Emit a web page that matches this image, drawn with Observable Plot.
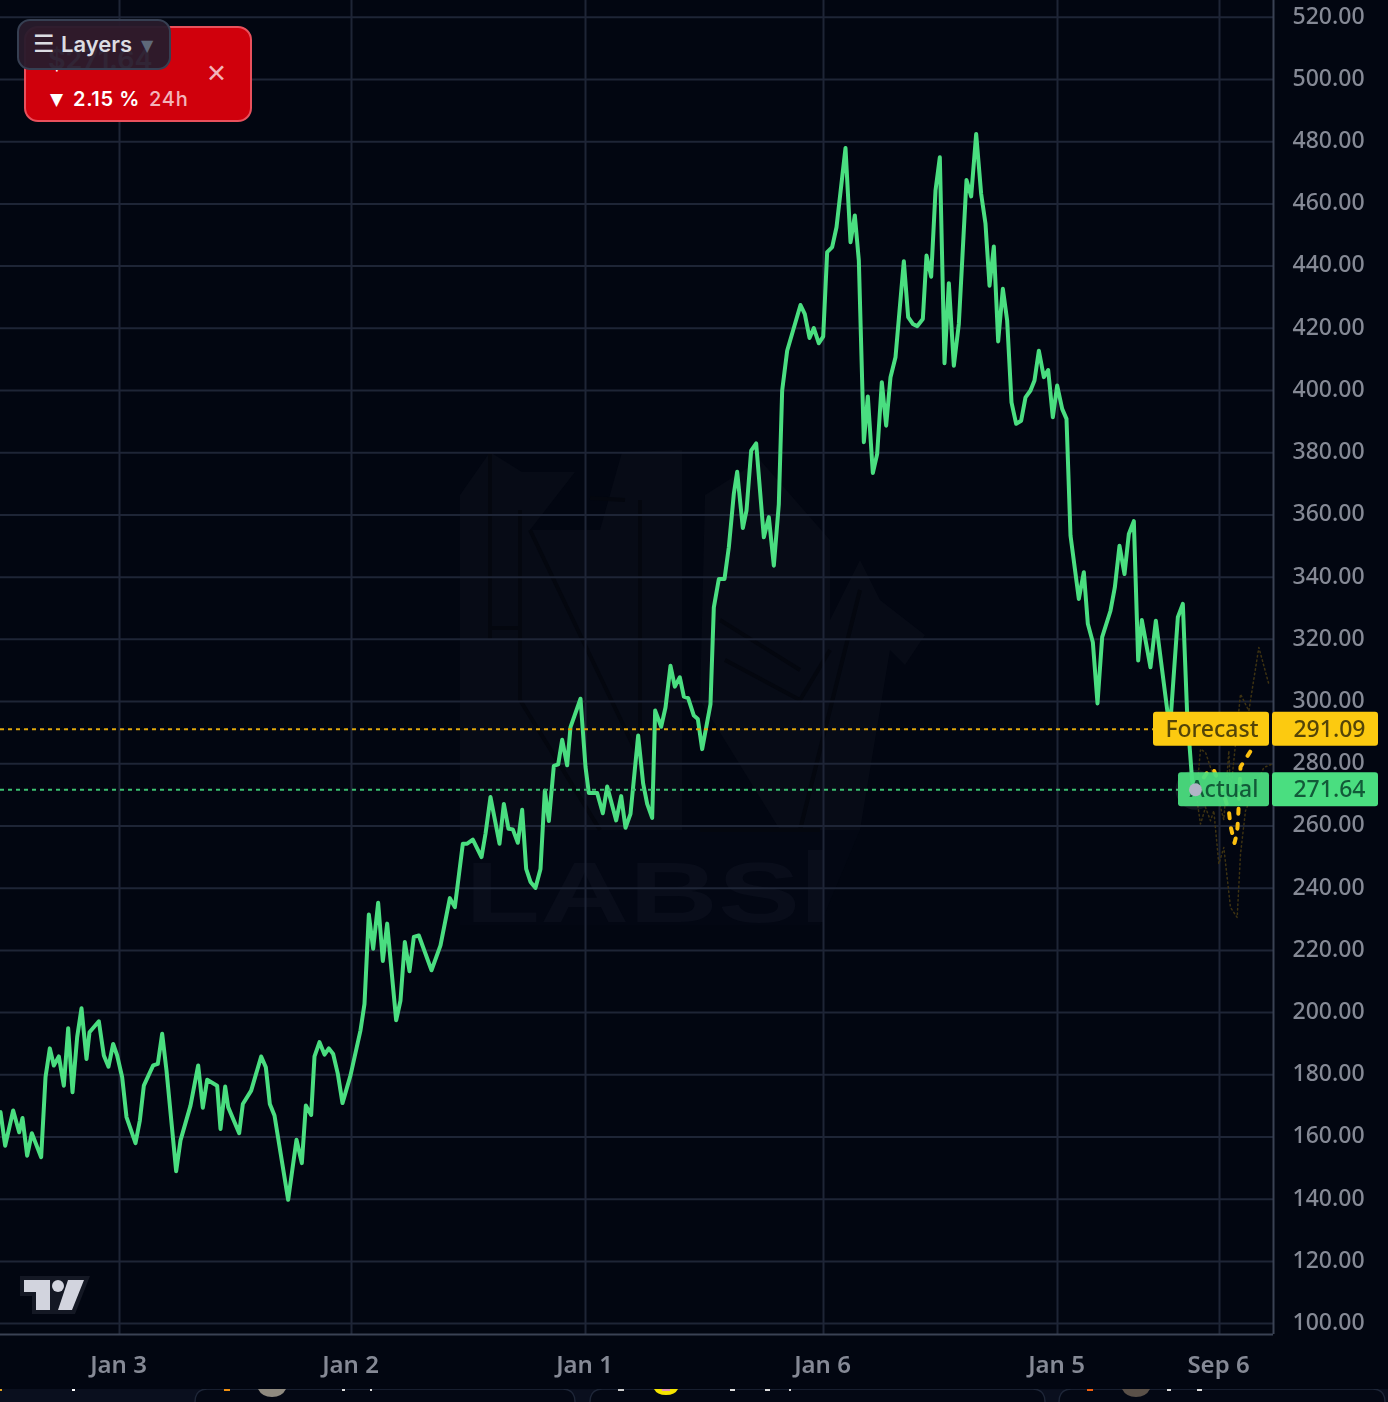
<!DOCTYPE html>
<html>
<head>
<meta charset="utf-8">
<script src="https://cdn.jsdelivr.net/npm/d3@7"></script>
<script src="https://cdn.jsdelivr.net/npm/@observablehq/plot@0.6"></script>
<style>
  html, body { margin: 0; padding: 0; background: #020611; }
  #stage { position: relative; width: 1388px; height: 1402px; overflow: hidden; background: #020611; }
  #stage > * { position: absolute; }
  #watermark { left: 0; top: 0; z-index: 0; }
  #chart { left: 0; top: 0; z-index: 1; }
  #chart svg { display: block; filter: blur(0.6px); }
  #card { left: 24px; top: 26px; width: 224px; height: 92px; border: 2px solid #e9505c; border-radius: 14px; background: #d0000c; z-index: 2; font-family: Inter, "Noto Sans", sans-serif; color: #fff; }
  #card .price { position: absolute; left: 22px; top: 15px; font-size: 27px; font-weight: 600; }
  #card .close { position: absolute; left: 180px; top: 30px; font-size: 25px; line-height: 30px; color: #f3b4b9; }
  #card .change { position: absolute; left: 24px; top: 59px; font-size: 20px; font-weight: 600; line-height: 24px; white-space: pre; letter-spacing: 0.6px; }
  #card .change span { font-weight: 500; color: #f3b4b9; margin-left: 9px; letter-spacing: 0.8px; }
  #card .change .tri { font-size: 17px; margin: 0 10px 0 0; position: relative; top: -1px; font-family: "DejaVu Sans"; color: #fff; letter-spacing: 0; }
  #layers { left: 17px; top: 19px; width: 150px; height: 47px; border: 2px solid #363f52; border-radius: 13px; background: rgba(40,27,44,.955); z-index: 3; font-family: Inter, "Noto Sans", sans-serif; color: #dcdce2; font-size: 22px; font-weight: 600; line-height: 47px; }
  #layers .menu { position: absolute; left: 14px; font-family: "DejaVu Sans"; font-size: 24px; font-weight: 700; }
  #layers .name { position: absolute; left: 42px; }
  #layers .caret { position: absolute; left: 122px; color: #5f6979; font-family: "DejaVu Sans"; font-size: 16px; top: 1px; }
  #logo { left: 0; top: 1260px; z-index: 2; }
  .strip { z-index: 2; }
</style>
</head>
<body>
<div id="stage">
  <svg id="watermark" width="1388" height="1402" viewBox="0 0 1388 1402">
    <g fill="#070b16">
      <path d="M460 495 L490 452 L522 472 L575 472 L530 530 L600 530 L622 452 L682 450 L682 830 L460 830 Z"/>
      <path d="M705 495 L760 460 L830 540 L830 620 L860 560 L880 600 L925 635 L905 665 L890 650 L860 830 L780 830 L700 700 Z"/>
      <path d="M460 830 L860 830 L820 925 L460 925 Z" opacity=".35"/>
    </g>
    <g fill="none" stroke="#04070f" stroke-width="4">
      <path d="M490 452 L490 640 M488 628 L520 628 M530 530 L640 760 L640 500 M520 510 L520 700 L600 830 M625 500 L590 498"/>
      <path d="M720 620 L800 670 M725 660 L800 700 L830 650 M700 830 L820 830 M860 590 L800 830"/>
    </g>
    <text x="465" y="922" font-family="Liberation Sans" font-weight="700" font-size="86" textLength="335" lengthAdjust="spacingAndGlyphs" fill="#090d1a">LABS</text>
    <rect x="808" y="850" width="16" height="72" fill="#090d1a"/>
  </svg>
  <div id="chart"></div>
  <div id="card">
    <div class="price">$271.64</div>
    <div class="close">✕</div>
    <div class="change"><span class="tri">▼</span>2.15 %<span>24h</span></div>
  </div>
  <div id="layers"><span class="menu">☰</span><span class="name">Layers</span><span class="caret">▼</span></div>
  <svg id="logo" width="100" height="60" viewBox="0 1260 100 60">
    <path d="M20 1276 L90 1276 L75 1314 L32 1314 L32 1296 L20 1296 Z" fill="#141824"/>
    <path d="M24 1280 L50 1280 L50 1310 L36 1310 L36 1292 L24 1292 Z M68 1280 L84 1280 L72 1310 L58 1310 Z" fill="#d2d4de"/>
    <circle cx="58" cy="1286" r="6" fill="#d2d4de"/>
  </svg>
  <svg class="strip" style="left:0;top:1389px" width="1388" height="13" viewBox="0 1389 1388 13">
    <rect x="0" y="1389" width="1388" height="13" fill="#0a0f1e"/>
    <g fill="#040814" stroke="#1e2638" stroke-width="1.5">
      <path d="M195 1402 Q195 1389 208 1389 L562 1389 Q575 1389 575 1402"/>
      <path d="M590 1402 Q590 1389 603 1389 L1032 1389 Q1045 1389 1045 1402"/>
      <path d="M1059 1402 Q1059 1389 1072 1389 L1372 1389 Q1385 1389 1385 1402"/>
    </g>
    <rect x="0" y="1389" width="2" height="2" fill="#e0a020"/>
    <rect x="72" y="1389" width="3" height="2" fill="#fff"/>
    <rect x="224" y="1389" width="6" height="2" fill="#f09010"/>
    <path d="M258 1389 L286 1389 Q282 1397 272 1397 Q262 1397 258 1389 Z" fill="#8f8a80"/>
    <rect x="342" y="1389" width="3" height="2" fill="#ddd"/>
    <rect x="370" y="1389" width="2" height="2" fill="#ddd"/>
    <rect x="618" y="1389" width="6" height="2" fill="#ccc"/>
    <path d="M654 1389 L678 1389 Q675 1395 666 1395 Q657 1395 654 1389 Z" fill="#f5e400"/>
    <rect x="662" y="1389" width="8" height="2" fill="#e090b0"/>
    <rect x="730" y="1389" width="5" height="2" fill="#ddd"/>
    <rect x="765" y="1389" width="5" height="2" fill="#ddd"/>
    <rect x="789" y="1389" width="2" height="2" fill="#ddd"/>
    <rect x="1087" y="1389" width="6" height="2" fill="#f06010"/>
    <path d="M1122 1389 L1150 1389 Q1146 1397 1136 1397 Q1126 1397 1122 1389 Z" fill="#5a5048"/>
    <rect x="1167" y="1389" width="4" height="2" fill="#ddd"/>
    <rect x="1197" y="1389" width="5" height="2" fill="#ddd"/>
  </svg>
</div>
<script>
// x values are hours from the left edge of the view
const hours = [0,14,38,56,66,80,94,122,135,148,160,175,190,203,216,230,243,258,267,295,310,324,338,350,365,378,405,418,430,458,472,485,498,527,540,570,593,607,620,650,660,674,683,716,727,752,782,796,808,822,863,888,904,916,932,942,957,972,985,998,1012,1026,1050,1080,1092,1105,1118,1133,1147,1160,1187,1200,1213,1227,1240,1255,1293,1320,1348,1363,1387,1400,1417,1443,1455,1470,1497,1510,1524,1537,1552,1565,1577,1590,1605,1620,1633,1645,1660,1673,1685,1700,1710,1740,1755,1765,1790,1807,1820,1847,1862,1875,1890,1913,1928,1940,1955,1964,1982,1995,2010,2023,2038,2050,2063,2080,2092,2105,2130,2140,2155,2172,2185,2200,2210,2227,2238,2252,2267,2290,2305,2320,2335,2345,2360,2400,2413,2427,2440,2455,2468,2480,2495,2508,2535,2550,2563,2575,2590,2602,2617,2630,2644,2657,2670,2685,2710,2723,2737,2750,2767,2778,2792,2805,2818,2832,2845,2860,2875,2898,2912,2927,2942,2955,2967,2980,2993,3007,3020,3033,3047,3062,3075,3090,3102,3115,3130,3143,3157,3170,3185,3198,3210,3235,3250,3262,3277,3291,3305,3330,3343,3357,3372,3385,3400,3413,3424,3450,3466,3508,3532,3547,3560,3575,3585];
const prices = [168.0,157.2,168.5,161.5,166.1,154.0,161.2,153.5,179.2,188.5,183.0,185.9,176.5,195.0,174.4,192.1,201.4,185.1,193.7,197.2,186.2,182.6,189.9,186.2,179.2,166.4,158.0,165.3,176.5,183.0,183.5,193.2,181.4,149.0,158.9,170.1,183.0,169.4,178.4,176.5,162.6,176.2,169.6,161.2,170.6,174.9,185.9,182.4,170.6,166.9,139.8,159.1,151.6,170.1,167.1,185.9,190.5,186.5,188.5,186.7,180.3,170.9,179.8,194.3,202.8,231.5,220.5,235.3,216.6,228.6,197.5,203.9,222.7,213.3,224.3,224.8,213.6,221.6,236.8,233.9,254.3,254.3,255.6,250.0,257.5,269.3,254.3,267.1,259.1,258.9,254.6,265.2,246.2,242.0,240.1,246.2,271.4,261.6,279.3,279.8,287.7,279.5,291.8,300.9,279.0,270.6,270.6,264.1,272.7,261.8,269.6,259.4,263.9,289.1,273.6,267.1,262.6,297.1,291.9,298.1,311.5,304.8,307.8,301.6,301.1,295.5,294.4,284.7,299.2,330.3,339.4,339.4,349.6,366.8,373.9,355.8,361.4,380.7,383.0,352.8,359.3,343.7,363.5,400.0,412.8,427.5,424.6,416.9,420.1,415.2,417.3,444.5,446.1,452.5,478.0,447.7,456.3,441.8,383.4,398.1,373.5,379.6,402.7,388.7,404.3,410.7,441.6,423.6,421.4,420.7,423.0,443.4,436.6,464.3,475.0,408.8,434.5,408.0,421.4,467.7,462.4,482.5,463.2,453.6,433.7,446.3,415.8,432.7,422.5,396.2,389.3,390.3,397.8,400.0,403.2,412.8,404.3,406.6,391.4,401.6,394.1,390.9,353.4,333.0,341.6,325.0,319.1,299.4,320.7,329.2,336.7,350.1,341.0,353.9,358.0,313.2,326.2,311.0,326.0,290.7,327.1,331.4,296.0,274.6,271.64];

const forecastHours = [3585,3625,3640,3670,3685,3690,3702,3710,3713,3720,3747,3755];
const forecastPrices = [271.6,278,278,270,265,260,254.5,258,263,279,283.5,285];

const upperHours = [3590,3600,3615,3640,3655,3670,3685,3690,3720,3745,3775,3805];
const upperPrices = [272.4,284.7,283.7,275.6,268,262,284.2,270.3,302.4,297,317.4,305.6];
const lowerHours = [3590,3600,3615,3630,3640,3655,3670,3690,3710,3720,3735,3790,3815];
const lowerPrices = [268,260.6,266,261.7,264.9,247.8,253.1,233.8,230.6,251,264.9,278.8,279.9];

const yTicks = [100,120,140,160,180,200,220,240,260,280,300,320,340,360,380,400,420,440,460,480,500,520];
const xTickHours = [357,1053,1755,2469,3171,3657];
const xTickLabels = ["Jan 3","Jan 2","Jan 1","Jan 6","Jan 5","Sep 6"];

const forecastValue = 291.09;
const actualValue = 271.64;
const tagNames = ["Forecast","Actual"];
const tagValues = [forecastValue, actualValue];
const tagFills = ["#fcca10","#4ade80"];
const tagInk = ["#544508","#125a38"];
const tagLeft = [3459,3534];
const tagHalf = 5.47;

const xEnd = 3819;
const yDomain = [96.5, 525.4];
const grid = "#1e2536";
const frame = "#3a4254";
const toRows = (xs, ys) => xs.map((x, i) => ({x, y: ys[i]}));

const plot = Plot.plot({
  width: 1388, height: 1402,
  marginLeft: 0, marginRight: 115, marginTop: 0, marginBottom: 68,
  x: {domain: [0, xEnd], axis: null},
  y: {domain: yDomain, axis: null},
  style: {background: "transparent", fontFamily: "'Noto Sans', sans-serif", fontSize: "23px", color: "#858995", overflow: "visible"},
  marks: [
    Plot.gridY(yTicks, {stroke: grid, strokeOpacity: 1, strokeWidth: 2}),
    Plot.gridX(xTickHours, {stroke: grid, strokeOpacity: 1, strokeWidth: 2}),
    Plot.ruleX([xEnd], {stroke: frame, strokeWidth: 2}),
    Plot.ruleY([yDomain[0]], {stroke: frame, strokeWidth: 2}),
    Plot.axisY(yTicks, {anchor: "right", tickSize: 0, tickPadding: 19, tickFormat: d3.format(".2f"), label: null, fontSize: 23, fontWeight: 500, dy: -1}),
    Plot.axisX(xTickHours, {anchor: "bottom", tickSize: 0, tickPadding: 21, tickFormat: d => xTickLabels[xTickHours.indexOf(d)], label: null, fontSize: 24, fontWeight: 600, dx: -1}),
    Plot.line(toRows(upperHours, upperPrices), {x: "x", y: "y", stroke: "#3d3212", strokeWidth: 1.5, strokeDasharray: "1.5,3"}),
    Plot.line(toRows(lowerHours, lowerPrices), {x: "x", y: "y", stroke: "#3d3212", strokeWidth: 1.5, strokeDasharray: "1.5,3"}),
    Plot.line(toRows(forecastHours, forecastPrices), {x: "x", y: "y", stroke: "#fcc010", strokeWidth: 4, strokeDasharray: "5,10"}),
    Plot.line(toRows(hours, prices), {x: "x", y: "y", stroke: "#4ade80", strokeWidth: 4, strokeLinejoin: "round"}),
    Plot.ruleY([forecastValue], {x1: 0, x2: tagLeft[0], stroke: "#dfa70c", strokeWidth: 2, strokeDasharray: "4,4"}),
    Plot.ruleY([actualValue], {x1: 0, x2: tagLeft[1], stroke: "#3cc070", strokeWidth: 2, strokeDasharray: "4,4"}),
    Plot.dot([{x: 3585, y: actualValue}], {x: "x", y: "y", r: 20, fill: "#ffffff", fillOpacity: 0.07}),
    Plot.rect(tagValues, {x1: (d, i) => tagLeft[i], x2: 3807, y1: d => d - tagHalf, y2: d => d + tagHalf, fill: (d, i) => tagFills[i], fillOpacity: (d, i) => i ? 0.94 : 1, rx: 3}),
    Plot.rect(tagValues, {x1: 3816, x2: 4134, y1: d => d - tagHalf, y2: d => d + tagHalf, fill: (d, i) => tagFills[i], rx: 3}),
    Plot.text(tagValues, {x: 3774, y: d => d, text: (d, i) => tagNames[i], textAnchor: "end", fill: (d, i) => tagInk[i], fontSize: 23, fontWeight: 500}),
    Plot.text(tagValues, {x: 4095, y: d => d, text: d => d3.format(".2f")(d), textAnchor: "end", fill: (d, i) => tagInk[i], fontSize: 23, fontWeight: 500}),
    Plot.dot([{x: 3585, y: actualValue}], {x: "x", y: "y", r: 6.5, fill: "#b2b4c6"})
  ]
});
document.getElementById("chart").appendChild(plot);
</script>
</body>
</html>
